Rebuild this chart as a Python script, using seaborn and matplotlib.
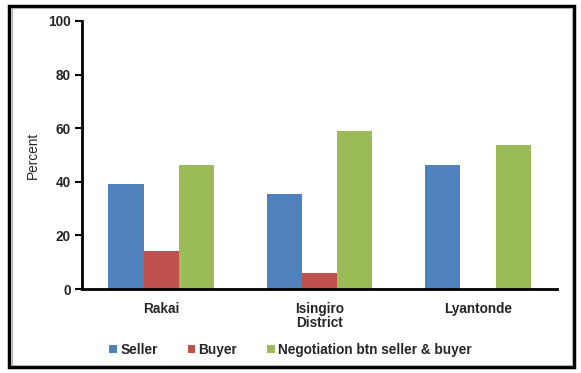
import numpy as np
import pandas as pd
import matplotlib
matplotlib.use('Agg')
import matplotlib.pyplot as plt
from matplotlib.patches import Rectangle
import seaborn as sns

districts = ['Rakai', 'Isingiro', 'Lyantonde']
groups = ['Seller', 'Buyer', 'Negotiation btn seller & buyer']
seller = [39.3, 35.3, 46.2]
buyer = [14.3, 5.9, 0.0]
negotiation = [46.4, 58.8, 53.8]
colors = ['#4F81BD', '#C0504D', '#9BBB59']

df = pd.DataFrame({
    'District': districts * 3,
    'Group': [groups[0]] * 3 + [groups[1]] * 3 + [groups[2]] * 3,
    'Percent': seller + buyer + negotiation,
})

sns.set_style('white')
plt.rcParams['font.family'] = ['Liberation Sans', 'DejaVu Sans']
fs = 9.8

fig = plt.figure(figsize=(5.81, 3.73), dpi=100)
ax = fig.add_axes([0.141, 0.225, 0.818, 0.719])
sns.barplot(data=df, x='District', y='Percent', hue='Group', palette=colors,
            width=0.665, saturation=1, ax=ax, legend=True)
for p in ax.patches:
    p.set_edgecolor('none')

ax.set_ylim(0, 100)
ax.set_xlim(-0.5, 2.5)
ax.set_yticks(range(0, 101, 20))
ax.tick_params(axis='y', left=True, length=5, width=1.5, direction='out',
               labelsize=fs, pad=3, color='black')
ax.tick_params(axis='x', bottom=False, labelsize=fs, pad=6)
for lbl in ax.get_xticklabels() + ax.get_yticklabels():
    lbl.set_fontweight('bold')
ax.set_xlabel('District', fontsize=fs, fontweight='bold', labelpad=0)
ax.set_ylabel('Percent', fontsize=fs, labelpad=6)
sns.despine(ax=ax)
ax.spines['left'].set_linewidth(2)
ax.spines['bottom'].set_linewidth(2)
ax.spines['left'].set_color('black')
ax.spines['bottom'].set_color('black')

handles, labels = ax.get_legend_handles_labels()
ax.legend_.remove()
fig.legend(handles, labels, loc='center', bbox_to_anchor=(0.5, 0.062), ncol=3,
           frameon=False, prop={'size': fs, 'weight': 'bold'},
           handlelength=0.55, handleheight=0.45, handletextpad=0.25,
           columnspacing=2.2)

# outer frame of the chart
fig.patches.append(Rectangle((0.016, 0.016), 0.972, 0.968, transform=fig.transFigure,
                             fill=False, edgecolor='black', linewidth=2.5))
fig.patches.append(Rectangle((0.020, 0.022), 0.964, 0.956, transform=fig.transFigure,
                             fill=False, edgecolor='#b0b0b0', linewidth=0.8))

fig.savefig('out.png', dpi=100)
